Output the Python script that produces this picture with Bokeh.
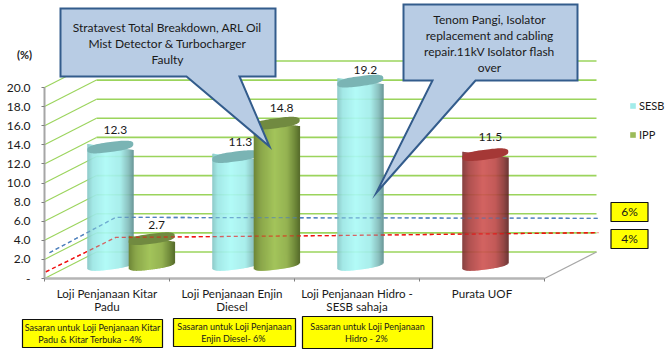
import math
from bokeh.plotting import figure
from bokeh.models import (Range1d, LinearAxis, FixedTicker, PrintfTickFormatter,
                          ColumnDataSource, Legend, LegendItem)
from bokeh.core.properties import value
from bokeh.embed import file_html
from bokeh.resources import INLINE

# ---------- data ----------
categories = ["Loji Penjanaan Kitar\nPadu", "Loji Penjanaan Enjin\nDiesel",
              "Loji Penjanaan Hidro -\nSESB sahaja", "Purata UOF"]
sesb = [12.3, 11.3, 19.2, None]
ipp = [2.7, 14.8, None, None]
purata = [None, None, None, 11.5]
y_ticks = list(range(0, 21, 2))
blue_target_x = [0.04, 0.57, 4.43]
blue_target_y = [2.7, 6.4, 6.3]
red_target_x = [0.01, 0.57, 2.32, 4.43]
red_target_y = [0.7, 4.3, 4.5, 4.8]
callout_left = ["Stratavest Total Breakdown, ARL Oil", "Mist Detector & Turbocharger", "Faulty"]
callout_right = ["Tenom Pangi, Isolator", "replacement and cabling", "repair.11kV Isolator flash", "over"]

FONT = value("Lato")
PX_CAT = 125.0
PX_VAL = 9.55
X0, Y0 = 44.0, 278.0


def X(px):
    return (px - X0) / PX_CAT


def Y(py):
    return (Y0 - py) / PX_VAL


p = figure(width=670, height=355, output_backend="svg", toolbar_location=None,
           x_range=Range1d(X(0), X(670)), y_range=Range1d(Y(355), Y(0)),
           x_axis_location=None, y_axis_location=None, min_border=0,
           outline_line_color=None, background_fill_color="white",
           border_fill_color="white")
p.xgrid.visible = False
p.ygrid.visible = False
p.styles = {"position": "absolute", "left": "0px", "top": "0px"}

# ---------- walls ----------
BACK_X = 52 / PX_CAT
BACK_Y = 26.5 / PX_VAL
GREEN = "#9bd45c"
p.segment(x0=[BACK_X] * len(y_ticks), x1=[4 + BACK_X] * len(y_ticks),
          y0=[v + BACK_Y for v in y_ticks], y1=[v + BACK_Y for v in y_ticks],
          line_color=GREEN, line_width=1.6)
p.segment(x0=[0] * len(y_ticks), x1=[BACK_X] * len(y_ticks),
          y0=y_ticks, y1=[v + BACK_Y for v in y_ticks],
          line_color=GREEN, line_width=1.1)
p.segment(x0=[4], x1=[4 + BACK_X], y0=[0], y1=[BACK_Y], line_color="#a6a6a6", line_width=1.2)

# target lines behind the cylinders
p.line(blue_target_x, blue_target_y, line_color="#4f81bd", line_width=1.3, line_dash="4 3")
p.line(red_target_x, red_target_y, line_color="#f01010", line_width=1.3, line_dash="4 3")


# ---------- cylinders ----------
def lerp_color(stops, t):
    for (t0, c0), (t1, c1) in zip(stops, stops[1:]):
        if t <= t1:
            f = (t - t0) / (t1 - t0)
            rgb = [round(int(c0[i:i + 2], 16) * (1 - f) + int(c1[i:i + 2], 16) * f) for i in (1, 3, 5)]
            return "#%02x%02x%02x" % tuple(rgb)
    return stops[-1][1]


TEAL = ([(0, "#83c4c3"), (0.12, "#9be6e4"), (0.4, "#abfaf7"), (0.72, "#a1ece9"), (0.9, "#7fb9b8"), (1, "#5f8f90")], "#7ab4b4")
OLIVE = ([(0, "#6d8537"), (0.15, "#8aa64a"), (0.45, "#a3c45b"), (0.72, "#95b352"), (0.9, "#6f8839"), (1, "#566b2c")], "#718a40")
RED = ([(0, "#7a2f2e"), (0.15, "#a84140"), (0.45, "#cf5452"), (0.72, "#bd4a48"), (0.9, "#8a3534"), (1, "#602524")], "#a53836")

HALF_W = 23.0
TILT = 0.13
ELL_B = 5.0
ELL_E = 0.7
PLANE_DX = 24.0
PLANE_DY = 14.0
SLOT = 20.7


def spow(u, e):
    return math.copysign(abs(u) ** e, u)


def cylinder(cat, slot, val, style):
    stops, cap = style
    cx = X0 + (cat + 0.5) * PX_CAT + PLANE_DX + slot * SLOT
    l, r, t, b, c = [], [], [], [], []
    n = 46
    for i in range(n):
        px = -HALF_W + i * 2 * HALF_W / n
        mid = px + HALF_W / n
        lower = -TILT * mid + ELL_B * max(0.0, 1 - abs(mid / HALF_W) ** (2 / ELL_E)) ** (ELL_E / 2)
        l.append((cx + px - X0) / PX_CAT)
        r.append((cx + px + 2 * HALF_W / n + 0.4 - X0) / PX_CAT)
        t.append(val + PLANE_DY / PX_VAL - TILT * mid / PX_VAL)
        b.append(PLANE_DY / PX_VAL - lower / PX_VAL)
        c.append(lerp_color(stops, (i + 0.5) / n))
    p.quad(left="l", right="r", top="t", bottom="b", fill_color="c", line_color=None,
           source=ColumnDataSource(dict(l=l, r=r, t=t, b=b, c=c)))
    ex, ey = [], []
    for k in range(72):
        a = 2 * math.pi * k / 72
        dx = HALF_W * spow(math.cos(a), ELL_E)
        ex.append((cx + dx - X0) / PX_CAT)
        ey.append(val + PLANE_DY / PX_VAL + (TILT * dx + ELL_B * spow(math.sin(a), ELL_E)) / PX_VAL)
    p.patch(ex, ey, fill_color=cap, line_color=None)


for i, v in enumerate(sesb):
    if v is not None:
        cylinder(i, -1, v, TEAL)
for i, v in enumerate(ipp):
    if v is not None:
        cylinder(i, 1, v, OLIVE)
for i, v in enumerate(purata):
    if v is not None:
        cylinder(i, -1, v, RED)

# target lines faded across the cylinders
p.line(blue_target_x, blue_target_y, line_color="#4f81bd", line_width=1.3, line_dash="4 3", line_alpha=0.6)
p.line(red_target_x, red_target_y, line_color="#f01010", line_width=1.3, line_dash="4 3", line_alpha=0.6)


# ---------- axes ----------
GREY = "#a6a6a6"
yax = LinearAxis(fixed_location=0, bounds=(0, 20), ticker=FixedTicker(ticks=y_ticks),
                 formatter=PrintfTickFormatter(format="%.1f"),
                 major_label_overrides={0: "-"},
                 axis_line_color=GREY, axis_line_width=2,
                 major_tick_line_color="#7f7f7f", major_tick_out=3, major_tick_in=0,
                 minor_tick_out=0, minor_tick_in=0,
                 major_label_standoff=11, major_label_text_font="Lato",
                 major_label_text_font_size="12px", major_label_text_color="#1a1a1a")
p.add_layout(yax, "left")
xax = LinearAxis(fixed_location=0, bounds=(0, 4), ticker=FixedTicker(ticks=[0, 1, 2, 3, 4]),
                 major_label_overrides={k: "" for k in range(5)},
                 axis_line_color="#b5b5b5", axis_line_width=2.5,
                 major_tick_line_color="#7f7f7f", major_tick_out=3, major_tick_in=0,
                 minor_tick_out=0, minor_tick_in=0)
p.add_layout(xax, "below")
cat_ax = LinearAxis(fixed_location=0, ticker=FixedTicker(ticks=[0.5, 1.5, 2.5, 3.5]),
                    major_label_overrides={i + 0.5: c for i, c in enumerate(categories)},
                    axis_line_color=None, major_tick_line_color=None,
                    minor_tick_out=0, minor_tick_in=0, major_tick_out=0, major_tick_in=0,
                    major_label_standoff=8, major_label_text_font="Lato",
                    major_label_text_font_size="11.6px", major_label_text_color="#1a1a1a",
                    major_label_text_line_height=1.0)
p.add_layout(cat_ax, "below")


def txt(px, py, s, size="12px", weight="normal", color="#1a1a1a"):
    p.text([X(px)], [Y(py)], text=[s], text_font=FONT, text_font_size=size,
           text_font_style=weight, text_color=color, text_align="center", text_baseline="middle")


txt(24, 54, "(%)", "11px", "bold")

# ---------- data labels ----------
label_nudge = {(0, "s"): -2, (1, "s"): 0, (2, "s"): 4, (0, "i"): 1, (1, "i"): 0, (3, "p"): -3}
for key, series, slot in (("s", sesb, -1), ("i", ipp, 1), ("p", purata, -1)):
    for i, v in enumerate(series):
        if v is not None:
            px = X0 + (i + 0.5) * PX_CAT + PLANE_DX + slot * SLOT + 5
            py = Y0 - PLANE_DY - v * PX_VAL - 15 + label_nudge[(i, key)]
            txt(px, py, f"{v:.1f}")

# ---------- legend ----------
nan = float("nan")
r1 = p.quad(left=[nan], right=[nan], top=[nan], bottom=[nan], fill_color="#a2ecea", line_color=None)
r2 = p.quad(left=[nan], right=[nan], top=[nan], bottom=[nan], fill_color="#9bbb59", line_color=None)
legend = Legend(items=[LegendItem(label="SESB", renderers=[r1]), LegendItem(label="IPP", renderers=[r2])],
                location=(629, 211), orientation="vertical", border_line_color=None,
                background_fill_alpha=0, margin=0, padding=0, spacing=9,
                glyph_width=7, glyph_height=7, label_height=20, label_standoff=3,
                label_text_font="Lato", label_text_font_size="11px", label_text_color="#1a1a1a")
p.add_layout(legend, "center")


# ---------- callouts ----------
def callout(outline):
    p.patch([X(a) for a, _ in outline], [Y(b) for _, b in outline], fill_color="#b8cce4",
            line_color="#335c8c", line_width=2, line_join="miter")


callout([(60, 8), (275, 8), (275, 76), (239, 76), (269, 146), (186, 76), (60, 76)])
callout([(403, 4), (577, 4), (577, 80), (475, 80), (376, 192), (432, 80), (403, 80)])
for k, s in enumerate(callout_left):
    txt(167, 27 + 16 * k, s, "12px")
for k, s in enumerate(callout_right):
    txt(489, 19 + 16 * k, s, "12px")


# ---------- yellow note boxes ----------
def note(x0, x1, y0, y1, lines, size, cx, ys):
    p.quad(left=[X(x0)], right=[X(x1)], top=[Y(y0)], bottom=[Y(y1)], fill_color="#ffff00",
           line_color="#111111", line_width=1.2)
    for s, yy in zip(lines, ys):
        txt(cx, yy, s, size)


note(22, 162, 319, 347, ["Sasaran untuk Loji Penjanaan Kitar", "Padu & Kitar Terbuka  -  4%"], "9px", 92, [327, 339])
note(173, 295, 318, 346, ["Sasaran untuk Loji Penjanaan", "Enjin Diesel-  6%"], "9px", 234, [326, 338])
note(302, 432, 316, 348, ["Sasaran untuk Loji Penjanaan", "Hidro -  2%"], "9px", 367, [326, 338])
note(610.5, 647.5, 202, 221, ["6%"], "12px", 629, [211])
note(610.5, 647.5, 229, 248, ["4%"], "12px", 629, [238])

open("out.html", "w").write(file_html(p, INLINE))
